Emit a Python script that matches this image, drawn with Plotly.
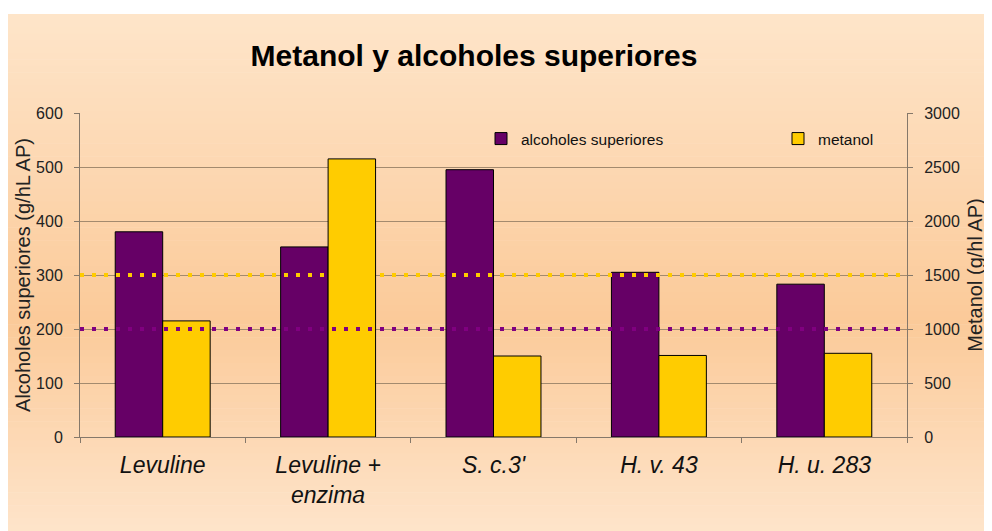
import plotly.graph_objects as go

categories = ["Levuline", "Levuline +<br>enzima", "S. c.3'", "H. v. 43", "H. u. 283"]
alcoholes = [380, 352, 495, 305, 283]
metanol = [1075, 2575, 750, 755, 775]
alc_limit = 200
met_limit = 1500
left_ticks = [0, 100, 200, 300, 400, 500, 600]
right_ticks = [0, 500, 1000, 1500, 2000, 2500, 3000]

# page coordinates (the page body has an 8px margin)
OFF = 8
SW, SH = 992, 531
W, H = SW - OFF, SH - OFF
L, R, T, B = 80, 907, 113, 437
FONT = "Liberation Sans, Arial, sans-serif"
PURPLE = "#660066"
YELLOW = "#FFCC00"

fig = go.Figure()
fig.add_trace(go.Bar(x=categories, y=alcoholes, name="alcoholes superiores",
                     marker=dict(color=PURPLE, line=dict(color="black", width=1)),
                     offsetgroup="a", yaxis="y"))
fig.add_trace(go.Bar(x=categories, y=metanol, name="metanol",
                     marker=dict(color=YELLOW, line=dict(color="black", width=1)),
                     offsetgroup="b", yaxis="y2"))


def px2x(px):
    return (px - L) / (R - L)


def py2y(py):
    return (B - py) / (B - T)


# background gradient (style only)
top = (254, 229, 202)
mid = (251, 202, 153)
bot = (254, 228, 202)
y_top, y_mid, y_bot = 14, 320, 531
shapes = []
n = 80
for i in range(n):
    a = y_top + (y_bot - y_top) * i / n
    b = y_top + (y_bot - y_top) * (i + 1) / n
    c = (a + b) / 2
    if c <= y_mid:
        t = (c - y_top) / (y_mid - y_top)
        col = tuple(round(top[k] + (mid[k] - top[k]) * t) for k in range(3))
    else:
        t = (c - y_mid) / (y_bot - y_mid)
        col = tuple(round(mid[k] + (bot[k] - mid[k]) * t) for k in range(3))
    shapes.append(dict(type="rect", xref="paper", yref="paper",
                       x0=px2x(OFF - 2), x1=px2x(SW + 2), y0=py2y(a), y1=py2y(b + 0.6),
                       fillcolor="rgb(%d,%d,%d)" % col, line=dict(width=0), layer="below"))

shapes.append(dict(type="line", xref="paper", x0=0, x1=1, yref="y", y0=alc_limit, y1=alc_limit,
                   line=dict(color="#800080", width=4, dash="4px,8px"), layer="above"))
shapes.append(dict(type="line", xref="paper", x0=0, x1=1, yref="y2", y0=met_limit, y1=met_limit,
                   line=dict(color=YELLOW, width=4, dash="4px,8px"), layer="above"))

AXIS = "#85786A"
GRID = "#A38A6E"

fig.update_layout(
    width=W, height=H,
    margin=dict(l=L - OFF, r=SW - R, t=T - OFF, b=SH - B, autoexpand=False),
    paper_bgcolor="white", plot_bgcolor="rgba(0,0,0,0)",
    font=dict(family=FONT, color="#222222"),
    barmode="group", bargap=0.426, bargroupgap=0,
    shapes=shapes,
    title=dict(text="<b>Metanol y alcoholes superiores</b>", x=(474 - OFF) / W, xanchor="center",
               y=1 - (55 - OFF) / H, yanchor="middle",
               font=dict(size=30, color="black", family=FONT)),
    xaxis=dict(showline=True, linecolor=AXIS, linewidth=1, ticks="outside", tickson="boundaries",
               ticklen=5, tickcolor=AXIS, tickfont=dict(size=23, style="italic", color="#111111"),
               showgrid=False, ticklabelstandoff=7),
    yaxis=dict(range=[0, 600], tickvals=left_ticks, showline=True, linecolor=AXIS, linewidth=1,
               ticks="outside", ticklen=5, tickcolor=AXIS, showgrid=True, gridcolor=GRID, gridwidth=1,
               zeroline=False, tickfont=dict(size=16), ticklabelstandoff=8,
               title=dict(text="Alcoholes superiores (g/hL AP)", font=dict(size=20), standoff=0)),
    yaxis2=dict(range=[0, 3000], tickvals=right_ticks, overlaying="y", side="right",
                showline=True, linecolor=AXIS, linewidth=1, ticks="outside", ticklen=5,
                tickcolor=AXIS, showgrid=False, zeroline=False, tickfont=dict(size=16),
                ticklabelstandoff=8,
                title=dict(text="Metanol (g/hl AP)", font=dict(size=20), standoff=9)),
    legend=dict(orientation="h", x=px2x(481), xanchor="left", y=py2y(139), yanchor="middle",
                bgcolor="rgba(0,0,0,0)", font=dict(size=15.5, color="#111111"),
                entrywidth=252, entrywidthmode="pixels", traceorder="normal"),
)

fig.write_html("out.html")
